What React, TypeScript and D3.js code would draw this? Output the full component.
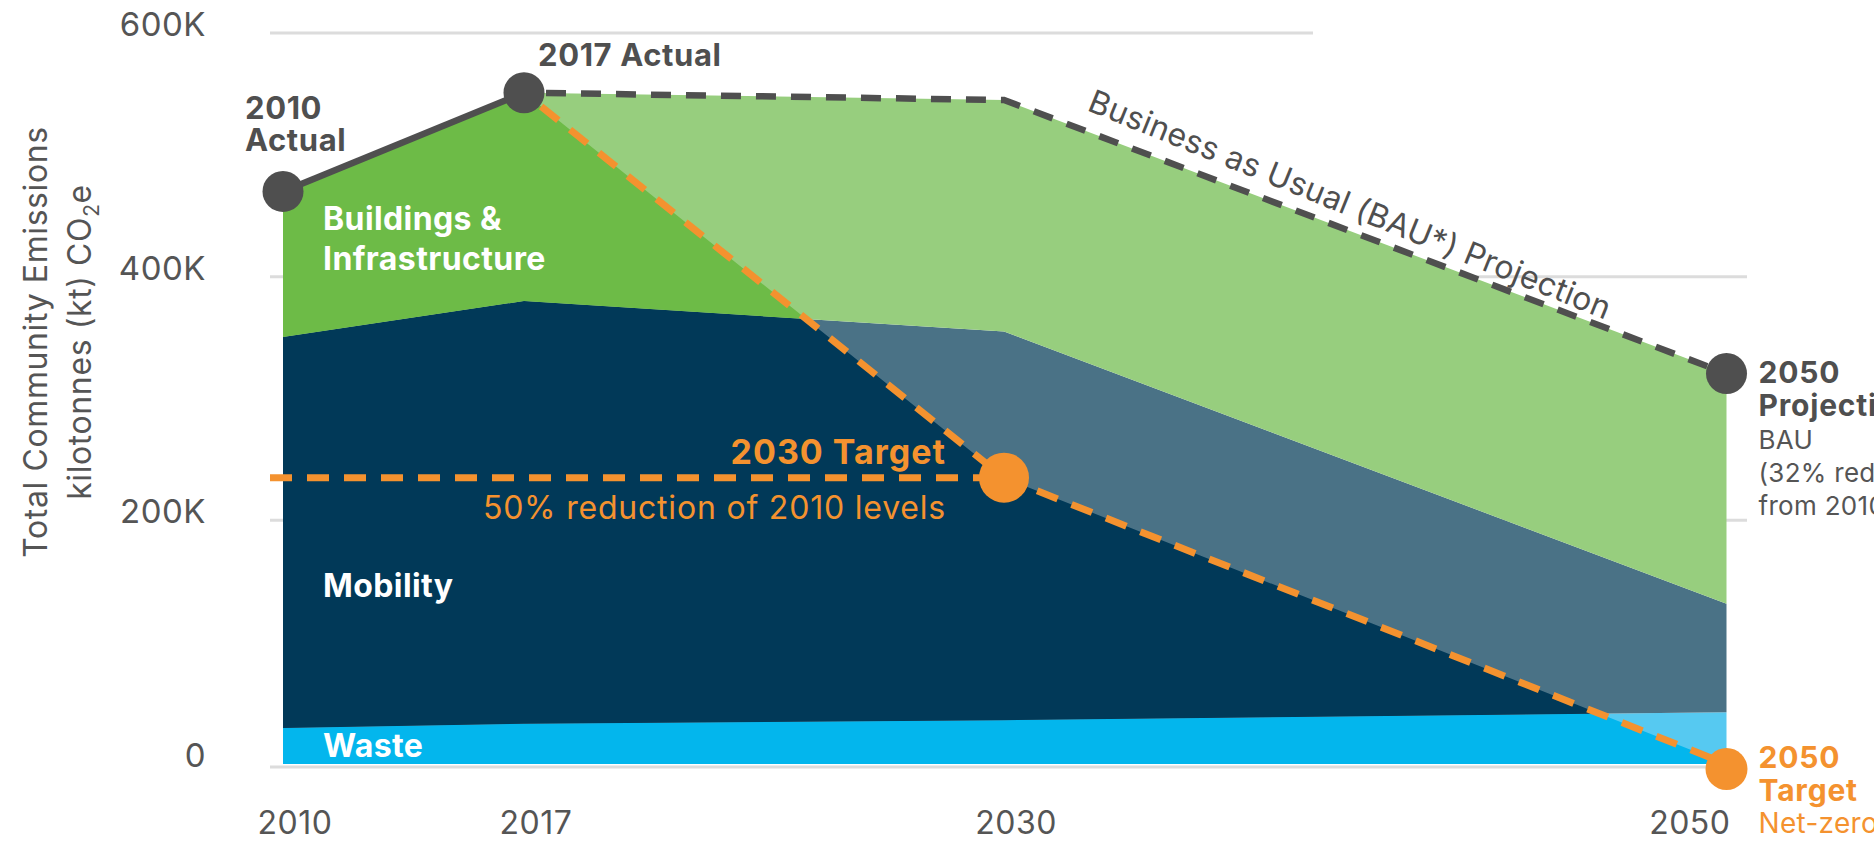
import React from 'react';
import * as d3 from 'd3';

// ---- data (kilotonnes CO2e) ----
const years = [2010, 2017, 2030, 2050];
const xTickLabels = ['2010', '2017', '2030', '2050'];
const waste = [29500, 33000, 36000, 42500];
const mobility = [321000, 347000, 319000, 89000];
const buildings = [119500, 171000, 190000, 189000];
const actualYears = [2010, 2017];
const actualValues = [470000, 551000];
const targetYears = [2017, 2030, 2050];
const targetValues = [551000, 235000, 0];
const bauYears = [2017, 2030, 2050];
const bauValues = [551000, 545000, 320500];
const yTicks = [0, 200000, 400000, 600000];
const yTickLabels = ['0', '200K', '400K', '600K'];
const seriesKeys = ['waste', 'mobility', 'buildings'];

const W = 1874;
const H = 849;
const FONT = 'Inter, "Noto Sans", sans-serif';
const DARK = '#4f4f4f';
const ORANGE = '#f4922f';
const GRID = '#dcdcdc';
const lightColors: Record<string, string> = { waste: '#56c9f1', mobility: '#4a7286', buildings: '#97ce7e' };
const satColors: Record<string, string> = { waste: '#03b6ed', mobility: '#013958', buildings: '#6dbb47' };

export default function App() {
  const x = d3.scaleLinear().domain(years).range([283, 524, 1004, 1726.5]);
  const y = d3.scaleLinear().domain([0, 600000]).range([764, 33]);
  const plotLeft = 270;
  const gridRight = 1747;

  const table = years.map((yr, i) => ({ year: yr, waste: waste[i], mobility: mobility[i], buildings: buildings[i] }));
  const stacked = d3.stack<any>().keys(seriesKeys)(table);
  const area = d3
    .area<any>()
    .x((d) => x(d.data.year))
    .y0((d) => y(d[0]))
    .y1((d) => y(d[1]));

  const reach: [number, number][] = [
    ...actualYears.map((yr, i) => [yr, actualValues[i]] as [number, number]),
    ...targetYears.slice(1).map((yr, i) => [yr, targetValues[i + 1]] as [number, number]),
  ];
  const clipArea = d3
    .area<[number, number]>()
    .x((d) => x(d[0]))
    .y0(y(0))
    .y1((d) => y(d[1]));

  const line = d3
    .line<[number, number]>()
    .x((d) => x(d[0]))
    .y((d) => y(d[1]));

  const actualPts = actualYears.map((yr, i) => [yr, actualValues[i]] as [number, number]);
  const targetPts = targetYears.map((yr, i) => [yr, targetValues[i]] as [number, number]);
  const bauPts = bauYears.map((yr, i) => [yr, bauValues[i]] as [number, number]);

  const t2030 = targetPts[1];
  const t2050 = targetPts[2];
  const b2050 = bauPts[2];

  return (
    <svg
      width={W}
      height={H}
      style={{ position: 'absolute', left: 0, top: 0, display: 'block', background: '#fff' }}
      fontFamily={FONT}
    >
      <defs>
        <clipPath id="reachClip">
          <path d={clipArea(reach) || ''} />
        </clipPath>
      </defs>

      {/* gridlines */}
      {yTicks.map((t, i) => (
        <line
          key={'g' + t}
          x1={plotLeft}
          x2={i === yTicks.length - 1 ? 1313 : gridRight}
          y1={y(t) + (t === 0 ? 3 : 0)}
          y2={y(t) + (t === 0 ? 3 : 0)}
          stroke={GRID}
          strokeWidth={3}
        />
      ))}

      {/* BAU (light) stacked areas */}
      {stacked.map((s) => (
        <path key={'l' + s.key} d={area(s) || ''} fill={lightColors[s.key]} />
      ))}
      {/* target-reach (saturated) stacked areas */}
      <g clipPath="url(#reachClip)">
        {stacked.map((s) => (
          <path key={'s' + s.key} d={area(s) || ''} fill={satColors[s.key]} />
        ))}
      </g>

      {/* y tick labels */}
      {yTicks.map((t, i) => (
        <text key={'yt' + t} x={206} y={y(t) + 3} textAnchor="end" fontSize={33} letterSpacing={0.5} fill="#555">
          {yTickLabels[i]}
        </text>
      ))}

      {/* x tick labels */}
      {years.map((yr, i) => (
        <text
          key={'xt' + yr}
          x={i === years.length - 1 ? x(yr) + 4 : x(yr) + 12}
          y={834}
          textAnchor={i === years.length - 1 ? 'end' : 'middle'}
          fontSize={32}
          letterSpacing={0.5}
          fill="#555"
        >
          {xTickLabels[i]}
        </text>
      ))}

      {/* y axis title */}
      <g transform="translate(36,342) rotate(-90)">
        <text textAnchor="middle" dy="0.35em" fontSize={32} letterSpacing={0.6} fill="#555">
          Total Community Emissions
        </text>
      </g>
      <g transform="translate(80,342) rotate(-90)">
        <text textAnchor="middle" dy="0.35em" fontSize={32} letterSpacing={0.6} fill="#555">
          kilotonnes (kt) CO
          <tspan fontSize={21} dy="8">2</tspan>
          <tspan dy="-8">e</tspan>
        </text>
      </g>

      {/* area labels */}
      <text x={323} y={230} fontSize={32} fontWeight={700} letterSpacing={0.4} fill="#fff">Buildings &amp;</text>
      <text x={323} y={270} fontSize={32} fontWeight={700} letterSpacing={0.4} fill="#fff">Infrastructure</text>
      <text x={323} y={597} fontSize={32} fontWeight={700} letterSpacing={0.4} fill="#fff">Mobility</text>
      <text x={323} y={757} fontSize={32} fontWeight={700} letterSpacing={0.4} fill="#fff">Waste</text>

      {/* 2030 target horizontal line */}
      <line
        x1={plotLeft}
        x2={x(t2030[0])}
        y1={y(t2030[1])}
        y2={y(t2030[1])}
        stroke={ORANGE}
        strokeWidth={7}
        strokeDasharray="22 15"
      />

      {/* lines */}
      <path d={line(actualPts) || ''} fill="none" stroke={DARK} strokeWidth={6.5} />
      <path d={line(bauPts) || ''} fill="none" stroke={DARK} strokeWidth={6.5} strokeDasharray="20 15" strokeDashoffset={-22} />
      <path d={line(targetPts) || ''} fill="none" stroke={ORANGE} strokeWidth={7} strokeDasharray="22 15" strokeDashoffset={-22} />

      {/* markers */}
      {actualPts.map((p) => (
        <circle key={'a' + p[0]} cx={x(p[0])} cy={y(p[1])} r={20.5} fill={DARK} />
      ))}
      <circle cx={x(b2050[0])} cy={y(b2050[1])} r={20.5} fill={DARK} />
      <circle cx={x(t2030[0])} cy={y(t2030[1])} r={25} fill={ORANGE} />
      <circle cx={x(t2050[0])} cy={y(t2050[1]) + 5} r={21} fill={ORANGE} />

      {/* annotations */}
      <text x={x(2010) - 38} y={y(actualValues[0]) - 72} fontSize={31} fontWeight={700} letterSpacing={0.6} fill={DARK}>2010</text>
      <text x={x(2010) - 38} y={y(actualValues[0]) - 40} fontSize={31} fontWeight={700} letterSpacing={0.6} fill={DARK}>Actual</text>
      <text x={x(2017) + 14} y={y(actualValues[1]) - 27} fontSize={31} fontWeight={700} letterSpacing={0.6} fill={DARK}>2017 Actual</text>

      <text transform={`translate(1086,110) rotate(22)`} fontSize={32} letterSpacing={0.3} fill={DARK}>
        Business as Usual (BAU*) Projection
      </text>

      <text x={x(2030) - 58} y={y(t2030[1]) - 14} textAnchor="end" fontSize={34} fontWeight={700} letterSpacing={1} fill={ORANGE}>
        2030 Target
      </text>
      <text x={x(2030) - 58} y={y(t2030[1]) + 41} textAnchor="end" fontSize={32} letterSpacing={0.8} fill={ORANGE}>
        50% reduction of 2010 levels
      </text>

      <text x={x(2050) + 32} y={y(b2050[1]) + 9} fontSize={30} fontWeight={700} letterSpacing={0.8} fill={DARK}>2050</text>
      <text x={x(2050) + 32} y={y(b2050[1]) + 42} fontSize={30} fontWeight={700} letterSpacing={0.8} fill={DARK}>Projection</text>
      <text x={x(2050) + 32} y={y(b2050[1]) + 75} fontSize={26} letterSpacing={0.3} fill="#555">BAU</text>
      <text x={x(2050) + 32} y={y(b2050[1]) + 108} fontSize={26} letterSpacing={0.3} fill="#555">(32% reduction</text>
      <text x={x(2050) + 32} y={y(b2050[1]) + 141} fontSize={26} letterSpacing={0.3} fill="#555">from 2010)</text>

      <text x={x(2050) + 32} y={y(t2050[1]) + 4} fontSize={30} fontWeight={700} letterSpacing={0.8} fill={ORANGE}>2050</text>
      <text x={x(2050) + 32} y={y(t2050[1]) + 37} fontSize={30} fontWeight={700} letterSpacing={0.8} fill={ORANGE}>Target</text>
      <text x={x(2050) + 32} y={y(t2050[1]) + 69} fontSize={28} letterSpacing={0.3} fill={ORANGE}>Net-zero</text>
    </svg>
  );
}
